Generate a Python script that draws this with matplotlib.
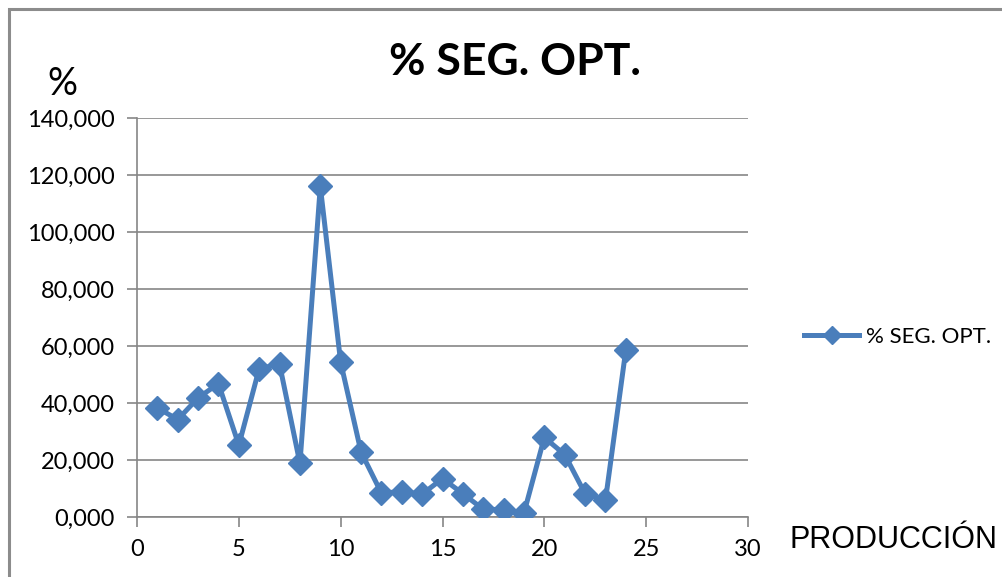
import matplotlib
matplotlib.use("Agg")
import matplotlib.pyplot as plt
from matplotlib.patches import Rectangle
from matplotlib.ticker import FuncFormatter, MultipleLocator

# Production number vs. % SEG. OPT.
produccion = [1, 2, 3, 4, 5, 6, 7, 8, 9, 10, 11, 12,
              13, 14, 15, 16, 17, 18, 19, 20, 21, 22, 23, 24]
seg_opt = [38.3, 34.2, 41.8, 46.8, 25.2, 52.1, 53.6, 18.8, 116.0, 54.3, 22.8, 8.4,
           8.9, 8.0, 13.5, 8.2, 2.7, 2.6, 1.4, 27.9, 21.9, 8.2, 5.8, 58.6]

series_name = "% SEG. OPT."
title = "% SEG. OPT."
x_label = "PRODUCCIÓN"
y_label = "%"

line_color = "#4A7EBB"
grid_color = "#868686"

W, H = 1002, 577
fig = plt.figure(figsize=(W / 100, H / 100), dpi=100)
ax = fig.add_axes([137 / W, 1 - 517 / H, (748 - 137) / W, (517 - 118) / H])

ax.plot(produccion, seg_opt, color=line_color, lw=3.6, marker="D", ms=12,
        markerfacecolor=line_color, markeredgecolor=line_color, label=series_name,
        solid_joinstyle="round", zorder=3)

ax.set_xlim(0, 30)
ax.set_ylim(0, 140)
ax.xaxis.set_major_locator(MultipleLocator(5))
ax.yaxis.set_major_locator(MultipleLocator(20))
ax.yaxis.set_major_formatter(FuncFormatter(lambda v, p: f"{v:.3f}".replace(".", ",")))

ax.grid(axis="y", color=grid_color, lw=1.2)
ax.set_axisbelow(True)
for s in ("top", "right"):
    ax.spines[s].set_visible(False)
for s in ("left", "bottom"):
    ax.spines[s].set_color(grid_color)
    ax.spines[s].set_linewidth(1.2)
ax.tick_params(axis="both", direction="out", length=7, width=1.2, color=grid_color,
               labelsize=17)
ax.tick_params(axis="y", pad=9)
ax.tick_params(axis="x", pad=9)
for lab in ax.get_xticklabels() + ax.get_yticklabels():
    lab.set_fontfamily("Lato")

fig.text(515 / W, 1 - 62 / H, title, ha="center", va="center",
         fontsize=32, fontweight="bold", family="Lato")
fig.text(62 / W, 1 - 84 / H, y_label, ha="center", va="center",
         fontsize=27, family="Lato")
fig.text(790 / W, 1 - 548 / H, x_label, ha="left", va="baseline",
         fontsize=22, family="Liberation Sans")

leg = fig.legend(loc="center left", bbox_to_anchor=(795 / W, 1 - 337 / H),
                 frameon=False, prop={"family": "Lato", "size": 16},
                 handlelength=2.5, handletextpad=0.3, borderaxespad=0)
for h in leg.legend_handles:
    h.set_markersize(9)

# Outer chart frame
fig.add_artist(Rectangle((8.5 / W, -0.1), 1.2, 1 - 8.5 / H + 0.1,
                         transform=fig.transFigure, fill=False,
                         edgecolor="#8C8C8C", lw=2.2))

fig.savefig("out.png", dpi=100)
